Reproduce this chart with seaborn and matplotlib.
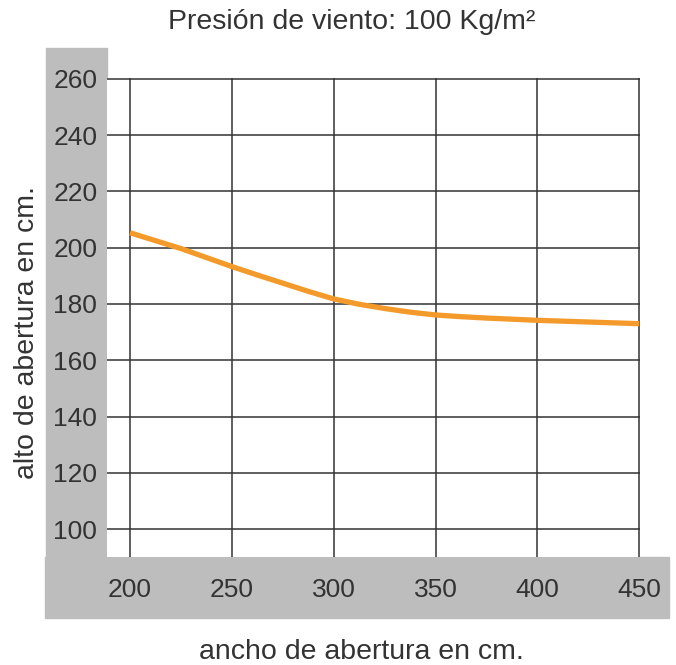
import matplotlib
matplotlib.use("Agg")
import matplotlib.pyplot as plt
from matplotlib.patches import Rectangle
import seaborn as sns
import pandas as pd

# data
ancho = [200, 212.5, 225, 237.5, 250, 262.5, 275, 287.5, 300, 312.5, 325, 337.5,
         350, 362.5, 375, 400, 425, 450]
alto = [205.3, 202.5, 199.7, 196.5, 193.3, 190.3, 187.4, 184.5, 181.8, 179.9, 178.4, 177.1,
        176.1, 175.5, 175.0, 174.2, 173.6, 173.0]
xticks = [200, 250, 300, 350, 400, 450]
yticks = [100, 120, 140, 160, 180, 200, 220, 240, 260]
title = "Presión de viento: 100 Kg/m²"
xlabel = "ancho de abertura en cm."
ylabel = "alto de abertura en cm."

sns.set_style("white")
plt.rcParams['font.family'] = ['Liberation Sans', 'DejaVu Sans']

W, H = 676, 665
fig = plt.figure(figsize=(W / 100, H / 100), dpi=100)

gray = "#bdbdbd"
# gray bands
fig.patches.append(Rectangle((46 / W, 1 - 557 / H), (107 - 46) / W, (557 - 48) / H,
                             transform=fig.transFigure, color=gray, zorder=-5))
fig.patches.append(Rectangle((45 / W, 1 - 618 / H), (669 - 45) / W, (618 - 557) / H,
                             transform=fig.transFigure, color=gray, zorder=-5))

ax = fig.add_axes([107 / W, 1 - 557 / H, (640 - 107) / W, (557 - 78) / H])
ax.set_facecolor("white")
ax.set_zorder(2)

df = pd.DataFrame({"ancho": ancho, "alto": alto})
sns.lineplot(data=df, x="ancho", y="alto", ax=ax, color="#f39a2b", linewidth=3.8,
             solid_capstyle="butt", solid_joinstyle="round", zorder=3)

ax.set_xlim(188.7, 450.4)
ax.set_ylim(90.1, 260.3)
ax.set_xticks(xticks)
ax.set_yticks(yticks)
ax.grid(True, color="#333333", linewidth=1.1)
ax.set_axisbelow(True)
for s in ax.spines.values():
    s.set_visible(False)

txt = "#333333"
ax.tick_params(axis="both", length=0, labelsize=19, labelcolor=txt)
ax.tick_params(axis="y", pad=7)
ax.tick_params(axis="x", pad=15)
ax.set_xlabel("")
ax.set_ylabel("")

fig.text(352 / W, 1 - 22 / H, title, ha="center", va="center", fontsize=20.5, color=txt)
fig.text(361 / W, 1 - 652 / H, xlabel, ha="center", va="center", fontsize=20.5, color=txt)
fig.text(27 / W, 1 - 332 / H, ylabel, ha="center", va="center", rotation=90, fontsize=20.5, color=txt)

fig.savefig("out.png", dpi=100)
